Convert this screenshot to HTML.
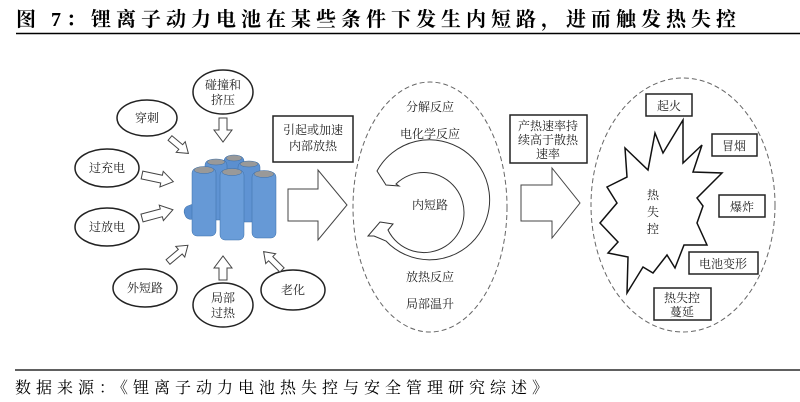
<!DOCTYPE html>
<html><head><meta charset="utf-8"><style>
body{margin:0;width:800px;height:402px;background:#fff;overflow:hidden}
svg{display:block}
text{font-family:"Liberation Serif","Noto Serif CJK SC",serif;font-size:12px;fill:#222;text-anchor:middle}
</style></head><body>
<svg width="800" height="402" viewBox="0 0 800 402">
<text x="16" y="26" style="font-size:20px;font-weight:bold;text-anchor:start;fill:#000;letter-spacing:5px">图 7：锂离子动力电池在某些条件下发生内短路，进而触发热失控</text>
<line x1="16" y1="33.5" x2="800" y2="33.5" stroke="#000" stroke-width="1.5"/>
<g fill="#fff" stroke="#222" stroke-width="1.5">
<ellipse cx="223" cy="92" rx="30" ry="22"/>
<ellipse cx="147" cy="118" rx="30" ry="18"/>
<ellipse cx="107" cy="168" rx="32" ry="19"/>
<ellipse cx="107" cy="227" rx="32" ry="19"/>
<ellipse cx="145" cy="288" rx="32" ry="19"/>
<ellipse cx="223" cy="305" rx="30" ry="22"/>
<ellipse cx="293" cy="290" rx="32" ry="20"/>
</g>
<g fill="#fff" stroke="#444" stroke-width="1">
<polygon points="219,118 227,118 227,130 232,130 223,142 214,130 219,130"/>
<polygon transform="translate(170,138) rotate(40)" points="0,-3 14,-3 14,-7 24,0 14,7 14,3 0,3"/>
<polygon transform="translate(142,175) rotate(12)" points="0,-4 20,-4 20,-8 32,0 20,8 20,4 0,4"/>
<polygon transform="translate(142,218) rotate(-15)" points="0,-4 20,-4 20,-8 32,0 20,8 20,4 0,4"/>
<polygon transform="translate(168,262) rotate(-40)" points="0,-3 16,-3 16,-7 26,0 16,7 16,3 0,3"/>
<polygon points="219,280 227,280 227,268 232,268 223,256 214,268 219,268"/>
<polygon transform="translate(282,270) rotate(-135)" points="0,-3 16,-3 16,-7 26,0 16,7 16,3 0,3"/>
</g>
<g stroke="#3a6ea8" stroke-width="0.5">
<rect x="184" y="203" width="26" height="14" rx="6" fill="#5b8fcf" transform="rotate(-20 197 210)"/>
<rect x="224" y="156" width="20" height="60" rx="5" fill="#5b8fcf"/>
<rect x="205" y="160" width="22" height="60" rx="5" fill="#5f93d3"/>
<rect x="238" y="162" width="22" height="60" rx="5" fill="#5f93d3"/>
<rect x="192" y="168" width="24" height="68" rx="5" fill="#6699d6"/>
<rect x="220" y="170" width="24" height="70" rx="5" fill="#6a9dd9"/>
<rect x="252" y="172" width="24" height="66" rx="5" fill="#6699d6"/>
<ellipse cx="234" cy="158" rx="8" ry="3" fill="#999"/>
<ellipse cx="216" cy="162" rx="9" ry="3" fill="#999"/>
<ellipse cx="249" cy="164" rx="9" ry="3" fill="#999"/>
<ellipse cx="204" cy="170" rx="10" ry="3.5" fill="#999"/>
<ellipse cx="232" cy="172" rx="10" ry="3.5" fill="#999"/>
<ellipse cx="264" cy="174" rx="10" ry="3.5" fill="#999"/>
</g>
<g fill="#fff" stroke="#222" stroke-width="1.5">
<rect x="273" y="116" width="80" height="46"/>
<rect x="510" y="115" width="77" height="48"/>
</g>
<g fill="#fff" stroke="#444" stroke-width="1">
<polygon points="288,189 318,189 318,170 347,205 318,240 318,221 288,221"/>
<polygon points="521,185 552,185 552,168 580,203 552,238 552,221 521,221"/>
</g>
<g fill="none" stroke="#666" stroke-width="1" stroke-dasharray="5,3">
<ellipse cx="430" cy="207" rx="77" ry="125"/>
<ellipse cx="683" cy="205" rx="92" ry="127"/>
</g>
<path d="M377,171 A60,60 0 1 1 386,241 L374,236 L368,236 L380,222 L393,224 L388,230 A40,40 0 1 0 396,184 L399,186 L386,185 Z" fill="#fff" stroke="#333" stroke-width="1"/>
<polygon fill="#fff" stroke="#111" stroke-width="1.5" points="683,120 663,153 655,133 648,170 625,148 627,177 607,187 617,203 600,223 618,242 608,253 628,257 627,293 643,267 653,273 667,255 675,268 684,245 707,245 697,223 703,206 697,198 722,173 693,172 702,145 683,163"/>
<g fill="#fff" stroke="#222" stroke-width="1.5">
<rect x="646" y="94" width="46" height="22"/>
<rect x="712" y="134" width="45" height="22"/>
<rect x="719" y="195" width="46" height="22"/>
<rect x="689" y="252" width="69" height="22"/>
<rect x="654" y="288" width="57" height="32"/>
</g>
<text x="313" y="134">引起或加速</text>
<text x="313" y="150">内部放热</text>
<text x="430" y="111">分解反应</text>
<text x="430" y="138">电化学反应</text>
<text x="430" y="209">内短路</text>
<text x="430" y="281">放热反应</text>
<text x="430" y="308">局部温升</text>
<text x="548" y="130">产热速率持</text>
<text x="548" y="144">续高于散热</text>
<text x="548" y="158">速率</text>
<text x="669" y="110">起火</text>
<text x="734" y="150">冒烟</text>
<text x="742" y="211">爆炸</text>
<text x="723" y="268">电池变形</text>
<text x="682" y="302">热失控</text>
<text x="682" y="316">蔓延</text>
<text x="653" y="199">热</text>
<text x="653" y="216">失</text>
<text x="653" y="233">控</text>
<text x="223" y="89">碰撞和</text>
<text x="223" y="104">挤压</text>
<text x="147" y="122">穿刺</text>
<text x="107" y="172">过充电</text>
<text x="107" y="231">过放电</text>
<text x="145" y="292">外短路</text>
<text x="223" y="302">局部</text>
<text x="223" y="317">过热</text>
<text x="293" y="294">老化</text>
<line x1="15" y1="370" x2="800" y2="370" stroke="#000" stroke-width="1.2"/>
<text x="15" y="393" style="font-size:16px;text-anchor:start;fill:#000;letter-spacing:5px">数据来源：《锂离子动力电池热失控与安全管理研究综述》</text>
</svg>
</body></html>
